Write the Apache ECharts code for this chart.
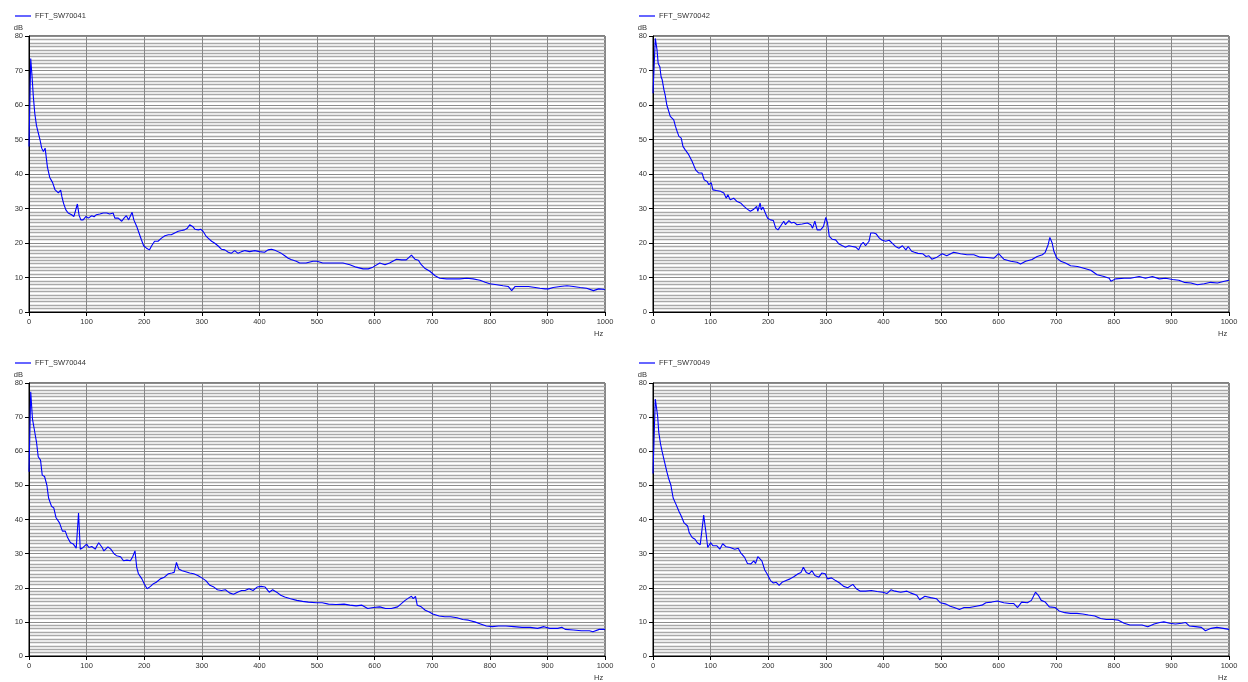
<!DOCTYPE html>
<html>
<head>
<meta charset="utf-8">
<script src="https://cdn.jsdelivr.net/npm/echarts@6/dist/echarts.min.js"></script>
<style>
html,body{margin:0;padding:0;background:#fff;}
#chart{width:1248px;height:682px;}
</style>
</head>
<body>
<div id="chart"></div>
<script>
const seriesNames = ['FFT_SW70041', 'FFT_SW70042', 'FFT_SW70044', 'FFT_SW70049'];
const xTicks = { min: 0, max: 1000, step: 100, name: 'Hz' };
const yTicks = { min: 0, max: 80, step: 10, minorSplit: 10, name: 'dB' };

// [Hz, dB] pairs
const s70041 = [[0,48],[3,73.5],[5,69],[7.5,62.5],[10,57.6],[13,54],[16,52],[19,50],[22,47.5],[25,46.5],[28,47.5],[30,47.6],[32,42],[36,39],[41,37.5],[45,35.5],[51,34.5],[55,35.3],[57,33.5],[60,31.5],[64,29.6],[68,28.7],[74,28.2],[78,27.7],[81,27.2],[84,31.3],[87,28],[90,26.7],[94,26.7],[99,27.7],[103,27.2],[109,27.9],[113,27.6],[117,28.2],[123,28.4],[129,28.7],[135,28.7],[140,28.4],[146,28.7],[149,27.2],[155,27.2],[161,26.3],[165,27.2],[169,27.9],[173,26.7],[177,28.2],[179,28.9],[182,26.7],[187,24.8],[191,22.9],[195,21],[199,19.2],[204,18.5],[209,18],[213,19.2],[218,20.5],[224,20.5],[230,21.4],[236,22.1],[242,22.4],[247,22.4],[253,22.9],[259,23.4],[265,23.6],[270,23.8],[275,24.3],[279,25.3],[284,24.8],[288,24],[294,23.8],[298,24],[302,23.4],[307,22.1],[311,21.4],[317,20.5],[322,20],[328,19.2],[334,18.2],[340,18],[346,17.3],[351,17],[357,17.8],[363,17],[369,17.5],[375,17.8],[383,17.5],[392,17.8],[400,17.5],[409,17.3],[415,18],[421,18.2],[427,17.9],[432,17.5],[438,17],[444,16.3],[450,15.6],[455,15.2],[464,14.7],[470,14.2],[481,14.2],[493,14.7],[500,14.7],[510,14.2],[522,14.2],[534,14.2],[545,14.2],[557,13.7],[568,13],[580,12.5],[589,12.5],[597,13],[609,14.2],[618,13.7],[626,14.2],[638,15.3],[647,15.1],[655,15.1],[664,16.5],[670,15.3],[676,15],[681,13.7],[687,12.7],[696,11.8],[705,10.5],[713,9.8],[725,9.6],[737,9.6],[748,9.6],[760,9.8],[771,9.6],[783,9.2],[792,8.6],[800,8.2],[812,7.9],[823,7.6],[832,7.4],[838,6.2],[844,7.4],[855,7.4],[867,7.4],[879,7.1],[887,6.9],[896,6.7],[902,6.7],[910,7.1],[922,7.4],[934,7.6],[945,7.4],[957,7.1],[968,6.9],[980,6.2],[989,6.7],[1000,6.5]];

const s70042 = [[0,63.4],[4,79.3],[7,76],[9,72],[12,71],[14,68.2],[16,67.3],[19,64.4],[21,63],[24,60],[27,59.6],[30,56.7],[33,56.5],[36,55.7],[39,53.8],[42,52.3],[45,50.9],[49,50.4],[52,48],[56,47],[62,45.6],[68,43.6],[71,43.6],[74,41.2],[79,40.3],[85,40.3],[89,38.3],[94,37.8],[97,36.9],[101,37.5],[104,35.4],[110,35.2],[117,35],[123,34.5],[127,33],[130,34],[134,32.5],[140,33],[146,32],[152,31.6],[158,30.6],[163,29.9],[169,29.2],[175,29.8],[180,30.6],[182,29.2],[186,31.6],[188,29.6],[191,30.4],[195,28.7],[199,27.2],[204,26.7],[209,26.5],[213,24.3],[217,23.8],[221,24.8],[227,26.3],[230,25.3],[236,26.5],[240,25.8],[245,26],[250,25.3],[259,25.5],[268,25.8],[274,25.3],[277,24.3],[281,26.3],[285,23.8],[291,23.8],[296,24.8],[300,27.4],[303,25.8],[306,21.9],[311,21.1],[317,20.9],[323,19.7],[329,19.2],[334,18.8],[340,19.2],[346,19],[352,18.8],[357,18],[361,19.5],[365,20.2],[369,19.2],[375,20.5],[378,22.9],[383,22.9],[387,22.7],[393,21.4],[398,20.8],[404,20.5],[410,20.8],[416,19.8],[421,19],[427,18.5],[433,19.2],[439,18],[443,19],[449,17.6],[454,17.3],[460,17],[468,16.9],[474,16.1],[479,16.3],[484,15.3],[493,15.9],[502,16.9],[510,16.3],[522,17.3],[534,16.9],[545,16.6],[557,16.6],[568,15.9],[580,15.8],[592,15.6],[600,16.9],[609,15.3],[621,14.7],[632,14.4],[638,13.9],[647,14.7],[658,15.2],[667,16.1],[676,16.6],[681,17.3],[686,19.5],[689,21.6],[693,20],[696,17.6],[701,15.6],[708,14.7],[716,14.2],[725,13.4],[737,13.2],[748,12.7],[760,12.1],[771,10.8],[783,10.3],[792,9.8],[795,8.9],[803,9.6],[818,9.8],[829,9.8],[844,10.3],[855,9.8],[867,10.3],[879,9.6],[890,9.8],[902,9.4],[913,9.2],[922,8.6],[934,8.4],[945,7.9],[957,8.2],[968,8.6],[980,8.4],[992,8.9],[1000,9.2]];

const s70044 = [[0,54],[3,77.4],[6,69.5],[9,66.6],[13,62.7],[16,58.4],[20,57.4],[23,53],[27,52.6],[31,50.1],[34,46.3],[39,43.9],[43,43.4],[47,40.5],[53,39],[58,36.6],[63,36.6],[67,34.7],[72,33.2],[77,32.8],[82,31.6],[86,41.9],[89,31.3],[94,31.8],[100,32.8],[104,31.8],[109,32.1],[115,31.3],[118,32.3],[121,33.2],[127,31.8],[130,30.8],[137,32],[142,31.3],[148,29.9],[152,29.4],[159,29.1],[164,27.9],[170,28.1],[176,27.9],[180,29.1],[184,30.8],[187,26],[190,24.1],[196,22.6],[200,21.2],[205,19.7],[211,20.4],[216,21.2],[221,21.6],[228,22.6],[235,23.1],[242,24.1],[248,24.3],[252,24.5],[256,27.4],[260,25.5],[266,25],[272,24.7],[279,24.3],[286,24.1],[293,23.6],[300,22.9],[307,22.1],[314,20.7],[321,20.2],[327,19.4],[334,19.2],[341,19.4],[348,18.5],[355,18.1],[362,18.7],[369,19.2],[375,19.2],[382,19.7],[389,19.2],[396,20.2],[403,20.4],[410,20.2],[417,18.7],[423,19.4],[430,18.7],[437,17.8],[444,17.3],[454,16.8],[465,16.3],[475,16],[485,15.8],[499,15.6],[509,15.6],[520,15.2],[533,15.1],[547,15.2],[557,14.9],[568,14.7],[578,14.9],[588,13.9],[598,14.2],[609,14.4],[619,13.9],[629,13.9],[640,14.4],[647,15.4],[653,16.3],[660,17.1],[664,17.5],[667,16.8],[671,17.5],[674,14.9],[681,14.4],[688,13.4],[695,12.9],[701,12.3],[712,11.7],[722,11.5],[732,11.5],[743,11.2],[753,10.7],[763,10.5],[774,10],[784,9.4],[794,8.8],[804,8.6],[815,8.8],[828,8.8],[842,8.6],[856,8.4],[870,8.4],[883,8.1],[894,8.6],[904,8.1],[918,8.1],[925,8.4],[931,7.8],[945,7.6],[959,7.4],[973,7.4],[979,7.1],[990,7.8],[1000,7.8]];

const s70049 = [[0,53.5],[4,75.3],[8,70.4],[10,65.6],[13,62.2],[16,59.8],[20,56.9],[24,54],[27,52.1],[31,50.1],[35,46.3],[39,44.8],[45,42.4],[49,41],[54,39],[60,38.1],[63,36.1],[68,34.7],[73,34.2],[77,33.2],[82,32.6],[84,32.8],[88,41.3],[92,36.1],[95,31.8],[100,33.2],[104,32.3],[111,32.3],[116,31.3],[121,32.9],[127,32],[134,31.8],[142,31.3],[148,31.6],[152,30.3],[159,28.9],[164,27.1],[170,27],[175,27.9],[178,27.1],[182,29.1],[185,29.4],[189,27.9],[194,25.2],[198,24.1],[204,22.1],[209,21.4],[214,21.6],[219,20.7],[224,21.6],[231,22.1],[238,22.6],[245,23.3],[252,24.1],[257,24.5],[261,26],[266,24.5],[271,24.1],[276,25],[281,23.6],[288,23.1],[293,24.3],[299,24.1],[303,22.6],[310,22.9],[317,22.1],[324,21.4],[331,20.4],[338,20],[347,21],[353,19.7],[360,19],[369,19],[379,19.2],[389,18.9],[399,18.7],[406,18.3],[413,19.4],[420,19],[430,18.7],[441,19],[447,18.5],[458,17.8],[463,16.5],[472,17.5],[482,17.1],[492,16.8],[499,15.6],[509,15.2],[516,14.6],[523,14.2],[532,13.6],[540,14.2],[550,14.2],[561,14.6],[571,14.9],[578,15.6],[588,15.8],[598,16.1],[609,15.6],[619,15.4],[626,15.4],[633,14.2],[640,15.8],[650,15.6],[657,16.3],[664,18.7],[669,17.8],[674,16.3],[681,15.8],[688,14.4],[698,14.2],[705,13.2],[715,12.7],[725,12.5],[736,12.5],[746,12.3],[756,12],[767,11.7],[777,11],[787,10.7],[798,10.7],[808,10.5],[818,9.6],[828,9.1],[839,9.1],[849,9.1],[859,8.6],[870,9.4],[880,9.8],[887,10],[897,9.6],[907,9.4],[918,9.6],[925,9.8],[931,8.8],[942,8.6],[952,8.4],[959,7.4],[969,8.1],[979,8.4],[990,8.1],[1000,7.8]];

const allSeries = [s70041, s70042, s70044, s70049];

const FONT = 'Liberation Sans, Arial, sans-serif';
const panels = [
  { left: 29, top: 36 },
  { left: 653, top: 36 },
  { left: 29, top: 383 },
  { left: 653, top: 383 }
];
const W = 576, H = 276;

const option = {
  animation: false,
  backgroundColor: '#ffffff',
  textStyle: { fontFamily: FONT },
  legend: panels.map((p, i) => ({
    data: [seriesNames[i]],
    left: p.left - 14,
    top: p.top - 24,
    padding: 0,
    icon: 'rect',
    itemWidth: 16,
    itemHeight: 1.2,
    itemGap: 4,
    selectedMode: false,
    textStyle: { fontSize: 7.5, color: '#333', fontFamily: FONT, padding: [0, 0, 0, -1] }
  })),
  grid: panels.map(p => ({
    left: p.left, top: p.top, width: W, height: H,
    show: true, borderColor: '#000', borderWidth: 1, backgroundColor: 'transparent',
    containLabel: false
  })),
  xAxis: panels.map((p, i) => ({
    gridIndex: i,
    type: 'value',
    min: xTicks.min, max: xTicks.max, interval: xTicks.step,
    name: xTicks.name,
    nameLocation: 'end',
    nameGap: -11,
    nameTextStyle: { fontSize: 7.5, color: '#333', verticalAlign: 'top', align: 'left', padding: [18, 0, 0, 0], fontFamily: FONT },
    axisLine: { show: true, lineStyle: { color: '#000', width: 1 } },
    axisTick: { show: true, inside: false, length: 4, lineStyle: { color: '#000' } },
    axisLabel: { fontSize: 7.5, color: '#333', margin: 6, fontFamily: FONT, formatter: v => String(v) },
    splitLine: { show: true, lineStyle: { color: '#888', width: 1 } }
  })),
  yAxis: panels.map((p, i) => ({
    gridIndex: i,
    type: 'value',
    min: yTicks.min, max: yTicks.max, interval: yTicks.step,
    name: yTicks.name,
    nameLocation: 'end',
    nameGap: 3,
    nameTextStyle: { fontSize: 7.5, color: '#333', align: 'right', padding: [0, 6, 0, 0], fontFamily: FONT },
    axisLine: { show: true, lineStyle: { color: '#000', width: 1 } },
    axisTick: { show: true, inside: false, length: 4, lineStyle: { color: '#000' } },
    axisLabel: { fontSize: 7.5, color: '#333', margin: 6, fontFamily: FONT },
    splitLine: { show: true, lineStyle: { color: '#8c8c8c', width: 1.2 } },
    minorTick: { show: false, splitNumber: yTicks.minorSplit },
    minorSplitLine: { show: true, lineStyle: { color: '#a8a8a8', width: 1.4 } }
  })),
  series: allSeries.map((d, i) => ({
    name: seriesNames[i],
    type: 'line',
    xAxisIndex: i,
    yAxisIndex: i,
    data: d,
    showSymbol: false,
    symbol: 'none',
    lineStyle: { color: '#0000ff', width: 1.1 },
    itemStyle: { color: '#0000ff' },
    z: 5
  }))
};

const chart = echarts.init(document.getElementById('chart'), null, { renderer: 'canvas' });
chart.setOption(option);
</script>
</body>
</html>
